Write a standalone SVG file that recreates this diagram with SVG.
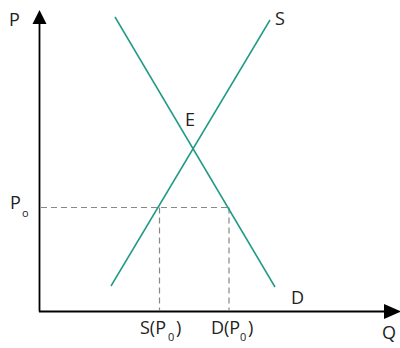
<svg xmlns="http://www.w3.org/2000/svg" width="400" height="348" viewBox="0 0 400 348">
<style>
.t{font-family:"Open Sans","Liberation Sans",sans-serif;font-size:18px;fill:#222}
.s{font-family:"Open Sans","Liberation Sans",sans-serif;font-size:11px;fill:#222}
.curve{stroke:#1f9a86;stroke-width:1.5;fill:none}
.dash{stroke:#888;stroke-width:1.2;stroke-dasharray:6,4;fill:none}
.axis{stroke:#000;stroke-width:1.8;fill:none}
</style>
<rect width="400" height="348" fill="#fff"/>
<g id="connectors">
<line class="dash" x1="41" y1="207.5" x2="229" y2="207.5"/>
<line class="dash" x1="159.5" y1="207.5" x2="159.5" y2="310"/>
<line class="dash" x1="229" y1="207.5" x2="229" y2="310"/>
<line class="axis" x1="39.5" y1="20" x2="39.5" y2="311.5"/>
<line class="axis" x1="39" y1="311.5" x2="388" y2="311.5"/>
<polygon points="39.5,10 46.5,24 32.5,24" fill="#000"/>
<polygon points="401,311.5 384,304 384,319" fill="#000"/>
</g>
<g id="supply">
<line class="curve" x1="111" y1="286" x2="270" y2="20"/>
<text class="t" x="275" y="25">S</text>
</g>
<g id="demand">
<line class="curve" x1="115" y1="17" x2="275" y2="287"/>
<text class="t" x="291" y="304">D</text>
</g>
<g id="E"><text class="t" x="185" y="126">E</text></g>
<g id="P"><text class="t" x="9" y="26">P</text></g>
<g id="Q"><text class="t" x="382" y="339">Q</text></g>
<g id="P0"><text class="t" x="10" y="209">P</text><text class="s" x="22" y="217">o</text></g>
<g id="SP0"><text class="t" x="140" y="334">S(P</text><text class="s" x="168" y="341">0</text><text class="t" x="176" y="334">)</text></g>
<g id="DP0"><text class="t" x="211" y="334">D(P</text><text class="s" x="240" y="341">0</text><text class="t" x="248" y="334">)</text></g>
</svg>
